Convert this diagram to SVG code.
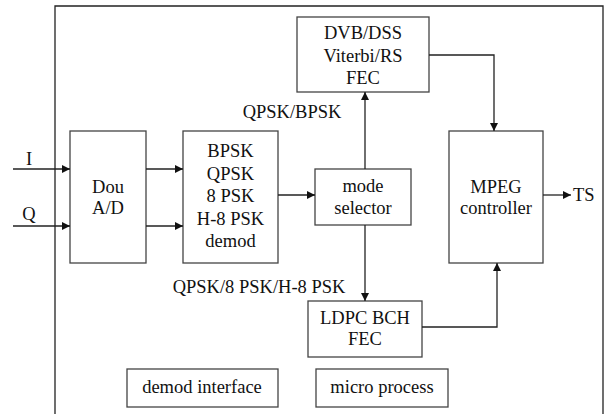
<svg xmlns="http://www.w3.org/2000/svg" width="610" height="414" viewBox="0 0 610 414">
  <style>
    .box { fill: #fff; stroke: #444; stroke-width: 1.3; }
    .frame { fill: none; stroke: #222; stroke-width: 1.3; }
    .wire { fill: none; stroke: #222; stroke-width: 1.3; }
    text { font-family: "Liberation Serif", "Times New Roman", serif; font-size: 18.5px; fill: #111; }
    .c { text-anchor: middle; }
  </style>
  <defs>
    <marker id="arrow" viewBox="0 0 10 10" refX="10" refY="5" markerWidth="10" markerHeight="8" markerUnits="userSpaceOnUse" orient="auto">
      <path d="M0,0 L10,5 L0,10 Z" fill="#111"/>
    </marker>
  </defs>

  <!-- chip outline, open at the bottom -->
  <path class="frame" d="M55,414 V6 H603 V414"/>

  <g id="dou-ad">
    <rect class="box" x="70" y="131" width="76" height="132"/>
    <text class="c" x="108" y="193">Dou</text>
    <text class="c" x="108" y="214">A/D</text>
  </g>

  <g id="demod">
    <rect class="box" x="183" y="131" width="95" height="132"/>
    <text class="c" x="230.5" y="157">BPSK</text>
    <text class="c" x="230.5" y="179.5">QPSK</text>
    <text class="c" x="230.5" y="202">8 PSK</text>
    <text class="c" x="230.5" y="224.5">H-8 PSK</text>
    <text class="c" x="230.5" y="247">demod</text>
  </g>

  <g id="mode-selector">
    <rect class="box" x="315" y="169" width="96" height="56"/>
    <text class="c" x="363" y="192">mode</text>
    <text class="c" x="363" y="213.5">selector</text>
  </g>

  <g id="dvb-fec">
    <rect class="box" x="297" y="17" width="132" height="75"/>
    <text class="c" x="363" y="38.5">DVB/DSS</text>
    <text class="c" x="363" y="61.5">Viterbi/RS</text>
    <text class="c" x="363" y="83.5">FEC</text>
  </g>

  <g id="ldpc-fec">
    <rect class="box" x="308" y="301" width="114" height="56"/>
    <text class="c" x="365" y="324">LDPC BCH</text>
    <text class="c" x="365" y="345">FEC</text>
  </g>

  <g id="mpeg">
    <rect class="box" x="449" y="131" width="94" height="132"/>
    <text class="c" x="496" y="193">MPEG</text>
    <text class="c" x="496" y="213.5">controller</text>
  </g>

  <g id="demod-interface">
    <rect class="box" x="127" y="369" width="151" height="38"/>
    <text class="c" x="202" y="393">demod interface</text>
  </g>

  <g id="micro-process">
    <rect class="box" x="316" y="369" width="132" height="38"/>
    <text class="c" x="382" y="393">micro process</text>
  </g>

  <g id="connectors">
    <line class="wire" x1="13" y1="169" x2="70" y2="169" marker-end="url(#arrow)"/>
    <line class="wire" x1="13" y1="226" x2="70" y2="226" marker-end="url(#arrow)"/>
    <line class="wire" x1="146" y1="169" x2="183" y2="169" marker-end="url(#arrow)"/>
    <line class="wire" x1="146" y1="226" x2="183" y2="226" marker-end="url(#arrow)"/>
    <line class="wire" x1="278" y1="195" x2="315" y2="195" marker-end="url(#arrow)"/>
    <line class="wire" x1="365" y1="169" x2="365" y2="92" marker-end="url(#arrow)"/>
    <line class="wire" x1="365" y1="225" x2="365" y2="301" marker-end="url(#arrow)"/>
    <path class="wire" d="M429,55 H494 V131" marker-end="url(#arrow)"/>
    <path class="wire" d="M422,327 H497 V263" marker-end="url(#arrow)"/>
    <line class="wire" x1="543" y1="195" x2="571" y2="195" marker-end="url(#arrow)"/>
  </g>

  <g id="labels">
    <text class="c" x="29" y="165">I</text>
    <text class="c" x="29" y="220">Q</text>
    <text x="573" y="200.5">TS</text>
    <text class="c" x="292" y="118">QPSK/BPSK</text>
    <text class="c" x="259" y="292.5">QPSK/8 PSK/H-8 PSK</text>
  </g>
</svg>
